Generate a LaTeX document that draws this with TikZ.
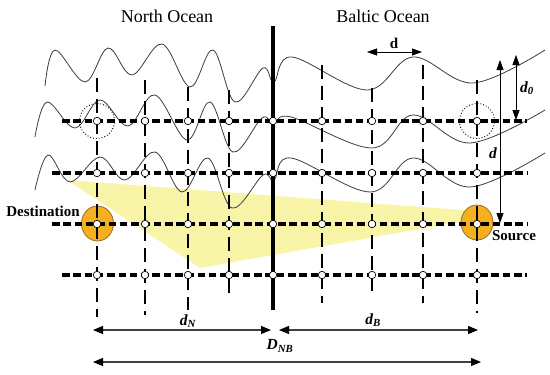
\documentclass[tikz,border=0pt]{standalone}
\usepackage{fontspec}
\setmainfont{Liberation Serif}
\usetikzlibrary{arrows.meta,shapes.geometric}
\definecolor{paleyellow}{RGB}{248,244,168}
\definecolor{orangefill}{RGB}{245,176,32}
\definecolor{orangeedge}{RGB}{150,105,35}
\definecolor{wavegray}{RGB}{60,60,60}
\tikzset{
  hline/.style={line width=3.6pt, dash pattern=on 7.5pt off 3.8pt},
  vline/.style={line width=2.6pt, dash pattern=on 14pt off 7pt},
  wall/.style={line width=4.6pt},
  wave/.style={line width=0.8pt, wavegray},
  gridpt/.style={circle, draw, fill=white, line width=0.7pt, inner sep=0pt, minimum size=7.5pt},
  endpt/.style={ellipse, draw=orangeedge, fill=orangefill, line width=0.8pt, inner sep=0pt, minimum width=32pt, minimum height=35pt},
  dotring/.style={circle, draw, dotted, line width=0.9pt, inner sep=0pt, minimum size=35pt},
  dimarrow/.style={line width=1.1pt, black!75, {Triangle[length=10pt,width=8pt,black]}-{Triangle[length=10pt,width=8pt,black]}},
  sizearrow/.style={line width=0.8pt, {Triangle[length=10pt,width=7pt]}-{Triangle[length=10pt,width=7pt]}},
  title/.style={font=\fontsize{18}{20}\selectfont},
  blabel/.style={font=\fontsize{15}{17}\selectfont\bfseries},
  mlabel/.style={font=\fontsize{15.5}{17}\selectfont\bfseries\itshape},
}
\begin{document}
\begin{tikzpicture}[x=1pt,y=-1pt]
\useasboundingbox (0,0) rectangle (550,375);
% shaded region
\fill[paleyellow] (67,180) -- (475,211) -- (476,219) -- (200,268) -- cycle;
% waves
\draw[wave] plot[smooth, tension=0.6] coordinates {(45,86) (55,50) (85,82) (108,48) (132,75) (162,44) (190,87) (213,50) (235,102) (263,68) (274,82) (292,57) (367,90) (413,57) (473,83) (545,50)};
\draw[wave] plot[smooth, tension=0.6] coordinates {(35,137) (47,102) (75,128) (100,100) (128,126) (155,95) (187,140) (210,102) (233,152) (262,118) (274,124) (291,117) (372,148) (413,115) (470,143) (545,110)};
\draw[wave] plot[smooth, tension=0.6] coordinates {(35,190) (48,155) (70,182) (100,157) (125,180) (155,152) (182,192) (208,158) (232,208) (263,175) (274,180) (291,158) (370,192) (413,158) (470,187) (545,153)};
% source & destination
\node[endpt] (dest) at (97.5,223.5) {};
\node[endpt] (src) at (477,222.5) {};
% horizontal dotted lines
\coordinate (h1L) at (62,121);  \coordinate (h1R) at (527,121);
\coordinate (h2L) at (52,173);  \coordinate (h2R) at (527,173);
\coordinate (h3L) at (52,224);  \coordinate (h3R) at (527,224);
\coordinate (h4L) at (62,275);  \coordinate (h4R) at (527,275);
\foreach \r in {1,...,4} \draw[hline] (h\r L) -- (h\r R);
% vertical dashed lines
\coordinate (v1T) at (97,78);   \coordinate (v1B) at (97,317);
\coordinate (v2T) at (145,80);  \coordinate (v2B) at (145,315);
\coordinate (v3T) at (188,87);  \coordinate (v3B) at (188,310);
\coordinate (v4T) at (229,90);  \coordinate (v4B) at (229,298);
\coordinate (v6T) at (322,65);  \coordinate (v6B) at (322,303);
\coordinate (v7T) at (372,88);  \coordinate (v7B) at (372,293);
\coordinate (v8T) at (423,65);  \coordinate (v8B) at (423,303);
\coordinate (v9T) at (477,80);  \coordinate (v9B) at (477,313);
\foreach \c in {1,2,3,4,6,7,8,9} \draw[vline] (v\c T) -- (v\c B);
% wall
\coordinate (wT) at (273,26); \coordinate (wB) at (273,310);
\draw[wall] (wT) -- (wB);
% grid points
\foreach \x [count=\i] in {97,145,188,229,273,322,372,423,477}
  \foreach \y [count=\j] in {121,173,224,275}
    \node[gridpt] (p\i-\j) at (\x,\y) {};
% dotted rings
\node[dotring] (ringL) at (p1-1) {};
\node[dotring] (ringR) at (p9-1) {};
% titles
\node[title] (north) at (167,16) {North Ocean};
\node[title] (baltic) at (383,16) {Baltic Ocean};
\node[blabel] (destlab) at (43,211) {Destination};
\node[blabel] (srclab) at (514,236) {Source};
% d arrow at top
\coordinate (dA) at (367,52); \coordinate (dB) at (422,52);
\draw[sizearrow] (dA) -- (dB);
\node[blabel] (dlab) at (394,43) {d};
% vertical arrows right
\coordinate (vdT) at (500,60); \coordinate (vdB) at (500,223);
\draw[sizearrow] (vdT) -- (vdB);
\node[mlabel] (dlab2) at (493,153) {d};
\coordinate (d0T) at (516,55); \coordinate (d0B) at (516,120);
\draw[sizearrow] (d0T) -- (d0B);
\node[mlabel] (d0lab) at (527,88) {d\textsubscript{0}};
% bottom dimension arrows
\coordinate (nL) at (93,330); \coordinate (nR) at (271,330);
\draw[dimarrow] (nL) -- (nR);
\node[mlabel] (dNlab) at (188,321) {d\textsubscript{N}};
\coordinate (bL) at (279,330); \coordinate (bR) at (478,330);
\draw[dimarrow] (bL) -- (bR);
\node[mlabel] (dBlab) at (373,320) {d\textsubscript{B}};
\coordinate (tL) at (93,362); \coordinate (tR) at (481,362);
\draw[dimarrow] (tL) -- (tR);
\node[mlabel] (DNBlab) at (280,346) {D\textsubscript{NB}};
\end{tikzpicture}
\end{document}
